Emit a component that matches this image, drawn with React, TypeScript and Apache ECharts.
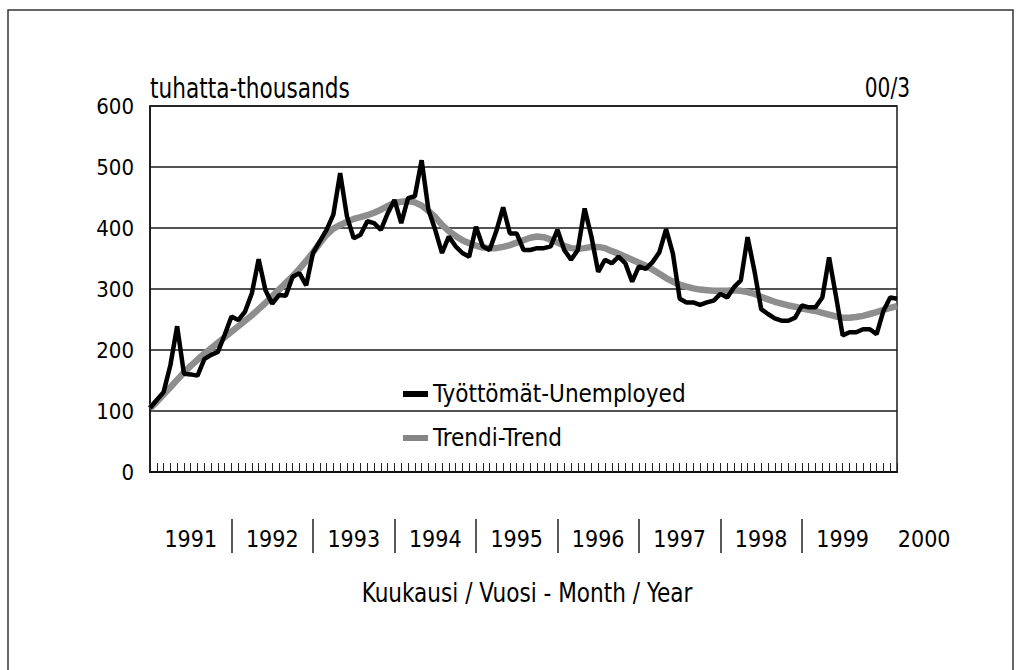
import React, { useEffect, useRef } from "react";
import * as echarts from "echarts";

const YEARS = ["1991", "1992", "1993", "1994", "1995", "1996", "1997", "1998", "1999", "2000"];
const LAST_YEAR_MONTHS = 3;

const SERIES_UNEMPLOYED = "Työttömät-Unemployed";
const SERIES_TREND = "Trendi-Trend";
const HEADER_LEFT = "tuhatta-thousands";
const HEADER_RIGHT = "00/3";
const X_TITLE = "Kuukausi / Vuosi - Month / Year";

// thousands, monthly 1991/1 .. 2000/3
const unemployed = [
  105, 118, 131, 175, 239, 161, 160, 158, 185, 192, 197, 225,
  255, 249, 263, 293, 349, 298, 276, 290, 289, 320, 326, 306,
  359, 378, 397, 422, 490, 419, 383, 389, 411, 408, 397, 424,
  446, 408, 449, 452, 511, 430, 397, 359, 386, 370, 359, 353,
  402, 370, 364, 395, 434, 391, 391, 364, 364, 367, 367, 370,
  397, 364, 348, 364, 432, 386, 328, 348, 342, 353, 342, 312,
  337, 333, 344, 360, 398, 358, 284, 278, 278, 274, 278, 281,
  292, 286, 303, 314, 385, 330, 267, 259, 252, 248, 248, 253,
  273, 270, 270, 286, 352, 289, 224, 229, 229, 234, 234, 226,
  264, 286, 284,
];

const trend = [
  104, 115, 127, 139, 151, 163, 174, 184, 194, 203, 212, 221,
  230, 239, 248, 257, 267, 277, 288, 299, 310, 321, 333, 346,
  360, 375, 389, 399, 405, 410, 415, 418, 421, 425, 430, 436,
  441, 443, 444, 442, 437, 428, 418, 405, 395, 387, 380, 375,
  371, 368, 367, 367, 369, 372, 376, 380, 384, 386, 385, 381,
  376, 371, 367, 366, 367, 369, 369, 367, 362, 358, 353, 348,
  343, 338, 332, 325, 318, 312, 307, 304, 301, 299, 298, 297,
  297, 297, 298, 297, 295, 292, 287, 283, 279, 276, 273, 271,
  268, 266, 264, 261, 258, 255, 253, 253, 254, 256, 259, 262,
  266, 269, 272,
];

const categories: string[] = [];
YEARS.forEach((y, yi) => {
  const n = yi === YEARS.length - 1 ? LAST_YEAR_MONTHS : 12;
  for (let m = 1; m <= n; m++) categories.push(`${y}/${m}`);
});

const FONT = "'Liberation Sans Narrow', 'Arial Narrow', 'DejaVu Sans Condensed', 'Liberation Sans', sans-serif";
const INK = "#000000";
const YEAR_FONT_SIZE = 23;

export default function App() {
  const ref = useRef<HTMLDivElement>(null);

  useEffect(() => {
    if (!ref.current) return;
    const chart = echarts.init(ref.current, undefined, { renderer: "svg" });
    const lastFullYearStart = (YEARS.length - 2) * 12;
    const option: any = {
      animation: false,
      backgroundColor: "#ffffff",
      grid: {
        left: 150,
        right: 125,
        top: 106,
        bottom: 198,
        show: true,
        borderColor: "#1a1a1a",
        borderWidth: 1.5,
        containLabel: false,
      },
      xAxis: [
        {
          type: "category",
          data: categories,
          boundaryGap: false,
          axisLine: { show: true, lineStyle: { color: "#111", width: 2 } },
          axisTick: { show: true, inside: true, length: 9, interval: 0, lineStyle: { color: "#222", width: 1 } },
          axisLabel: { show: false },
          splitLine: { show: false },
        },
        {
          type: "category",
          data: categories,
          boundaryGap: false,
          position: "bottom",
          offset: 47,
          axisLine: { show: false },
          axisTick: {
            show: true,
            interval: (i: number) => i > 0 && i % 12 === 0 && i <= lastFullYearStart,
            length: 34,
            lineStyle: { color: "#222", width: 1.5 },
          },
          axisLabel: {
            show: true,
            interval: (i: number) => i % 12 === 6,
            formatter: (v: string) => v.slice(0, 4),
            margin: 8,
            fontFamily: FONT,
            fontSize: YEAR_FONT_SIZE,
            color: INK,
          },
          splitLine: { show: false },
        },
      ],
      yAxis: {
        type: "value",
        min: 0,
        max: 600,
        interval: 100,
        axisLine: { show: true, lineStyle: { color: "#111", width: 1.5 } },
        axisTick: { show: false },
        axisLabel: { margin: 16, fontFamily: FONT, fontSize: 22, color: INK },
        splitLine: { show: true, lineStyle: { color: "#1a1a1a", width: 1.5 } },
      },
      legend: {
        orient: "vertical",
        left: 398,
        top: 377,
        itemWidth: 25,
        itemHeight: 6,
        itemGap: 20,
        textStyle: { fontFamily: FONT, fontSize: 24, color: INK },
        data: [
          { name: SERIES_UNEMPLOYED, icon: "rect", itemStyle: { color: "#000" } },
          { name: SERIES_TREND, icon: "rect", itemStyle: { color: "#858585" } },
        ],
      },
      series: [
        {
          name: SERIES_TREND,
          type: "line",
          data: trend,
          showSymbol: false,
          itemStyle: { color: "#8e8e8e" },
          lineStyle: { color: "#8e8e8e", width: 6.5 },
          z: 2,
        },
        {
          name: SERIES_UNEMPLOYED,
          type: "line",
          data: unemployed,
          showSymbol: false,
          itemStyle: { color: "#000" },
          lineStyle: { color: "#000", width: 4.5 },
          z: 3,
        },
      ],
      graphic: [
        {
          type: "rect",
          shape: { x: 8, y: 10, width: 1005, height: 700 },
          style: { fill: "none", stroke: "#333", lineWidth: 1.5 },
          silent: true,
        },
        {
          type: "text",
          x: 150,
          y: 88,
          scaleX: 0.86,
          style: { text: HEADER_LEFT, fontFamily: FONT, fontSize: 28, fill: INK, textAlign: "left", textVerticalAlign: "middle" },
        },
        {
          type: "text",
          x: 910,
          y: 88,
          scaleX: 0.83,
          style: { text: HEADER_RIGHT, fontFamily: FONT, fontSize: 27, fill: INK, textAlign: "right", textVerticalAlign: "middle" },
        },
        {
          type: "text",
          x: 527,
          y: 592,
          scaleX: 0.89,
          style: { text: X_TITLE, fontFamily: FONT, fontSize: 27, fill: INK, textAlign: "center", textVerticalAlign: "middle" },
        },
      ],
    };
    chart.setOption(option);

    const x0 = chart.convertToPixel({ xAxisIndex: 0 }, categories[0]) as number;
    const xn = chart.convertToPixel({ xAxisIndex: 0 }, categories[categories.length - 1]) as number;
    const step = (xn - x0) / (categories.length - 1);
    const lastYearCenter = x0 + step * ((YEARS.length - 1) * 12 + 6);
    chart.setOption({
      graphic: [
        ...option.graphic,
        {
          type: "text",
          x: lastYearCenter,
          y: 519 + 8,
          style: { text: YEARS[YEARS.length - 1], fontFamily: FONT, fontSize: YEAR_FONT_SIZE, fill: INK, textAlign: "center", textVerticalAlign: "top" },
        },
      ],
    });

    return () => chart.dispose();
  }, []);

  return <div ref={ref} style={{ position: "fixed", left: 0, top: 0, width: 1022, height: 670 }} />;
}
